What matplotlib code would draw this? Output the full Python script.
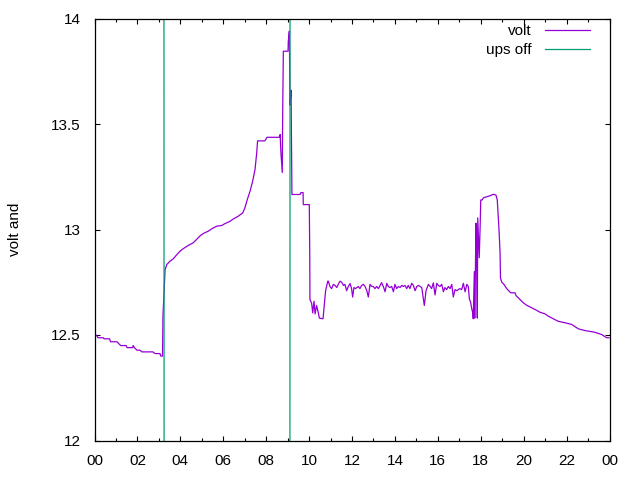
import matplotlib
matplotlib.use("Agg")
import matplotlib.pyplot as plt
from matplotlib.ticker import MultipleLocator

plt.rcParams['font.family'] = ['Liberation Sans', 'DejaVu Sans']

# time of day in hours
volt_t = [0.00, 0.10, 0.16, 0.40, 0.45, 0.70, 0.75, 1.05, 1.12, 1.22, 1.47, 1.52, 1.78, 1.80, 1.86,
          1.98, 2.12, 2.21, 2.72, 2.82, 3.05, 3.09, 3.17, 3.19, 3.29, 3.37, 3.52, 3.67, 3.83, 3.98,
          4.12, 4.30, 4.45, 4.60, 4.76, 4.92, 5.07, 5.30, 5.46, 5.70, 5.93, 6.08, 6.32, 6.47, 6.70,
          6.91, 7.01, 7.12, 7.25, 7.37, 7.48, 7.56, 7.60, 7.94, 8.04, 8.64, 8.65, 8.69, 8.75, 8.77,
          8.80, 9.02, 9.03, 9.08, 9.11, 9.16, 9.18, 9.20, 9.58, 9.62, 9.72, 9.73, 10.01, 10.03, 10.04,
          10.12, 10.17, 10.23, 10.28, 10.35, 10.42, 10.48, 10.65, 10.71, 10.77, 10.87, 10.90, 10.97, 11.05, 11.13,
          11.21, 11.29, 11.36, 11.44, 11.52, 11.60, 11.67, 11.75, 11.83, 11.91, 11.98, 12.03, 12.09, 12.16, 12.23,
          12.29, 12.37, 12.45, 12.53, 12.61, 12.69, 12.76, 12.84, 12.92, 12.99, 13.07, 13.15, 13.23, 13.31, 13.38,
          13.46, 13.54, 13.62, 13.69, 13.77, 13.85, 13.93, 14.00, 14.08, 14.16, 14.24, 14.32, 14.39, 14.47, 14.55,
          14.62, 14.70, 14.78, 14.86, 14.94, 15.02, 15.09, 15.17, 15.25, 15.33, 15.37, 15.45, 15.56, 15.64, 15.71,
          15.79, 15.87, 15.95, 16.02, 16.10, 16.18, 16.26, 16.33, 16.41, 16.49, 16.57, 16.65, 16.72, 16.80, 16.88,
          16.95, 17.03, 17.11, 17.19, 17.27, 17.35, 17.42, 17.47, 17.53, 17.58, 17.63, 17.65, 17.70, 17.72, 17.78,
          17.81, 17.84, 17.86, 17.93, 17.97, 18.00, 18.07, 18.12, 18.28, 18.43, 18.59, 18.71, 18.77, 18.85, 18.90,
          18.92, 18.98, 19.08, 19.18, 19.28, 19.40, 19.60, 19.64, 19.75, 19.86, 19.98, 20.14, 20.37, 20.53, 20.76,
          21.00, 21.15, 21.38, 21.61, 21.93, 22.24, 22.55, 22.86, 23.32, 23.64, 23.87, 23.98]

volt_v = [12.502, 12.498, 12.487, 12.487, 12.482, 12.482, 12.468, 12.468, 12.460, 12.450, 12.450, 12.440, 12.440, 12.450, 12.440,
          12.428, 12.428, 12.420, 12.420, 12.412, 12.412, 12.400, 12.400, 12.590, 12.810, 12.834, 12.850, 12.861, 12.880, 12.897,
          12.908, 12.920, 12.929, 12.937, 12.953, 12.970, 12.981, 12.992, 13.003, 13.016, 13.019, 13.028, 13.039, 13.050, 13.063,
          13.079, 13.103, 13.142, 13.182, 13.229, 13.284, 13.364, 13.420, 13.420, 13.437, 13.437, 13.450, 13.360, 13.270, 13.553,
          13.845, 13.845, 13.890, 13.940, 13.590, 13.660, 13.410, 13.166, 13.166, 13.175, 13.175, 13.118, 13.118, 12.897, 12.668,
          12.650, 12.605, 12.660, 12.600, 12.640, 12.610, 12.580, 12.577, 12.645, 12.710, 12.755, 12.755, 12.730, 12.720, 12.740,
          12.735, 12.725, 12.740, 12.755, 12.750, 12.735, 12.740, 12.710, 12.730, 12.744, 12.720, 12.680, 12.725, 12.720, 12.725,
          12.730, 12.720, 12.735, 12.740, 12.730, 12.710, 12.680, 12.740, 12.730, 12.730, 12.720, 12.730, 12.720, 12.735, 12.748,
          12.730, 12.705, 12.745, 12.730, 12.725, 12.730, 12.705, 12.740, 12.720, 12.730, 12.725, 12.735, 12.730, 12.735, 12.720,
          12.735, 12.720, 12.745, 12.735, 12.710, 12.730, 12.735, 12.730, 12.725, 12.670, 12.640, 12.710, 12.740, 12.730, 12.720,
          12.747, 12.690, 12.745, 12.735, 12.730, 12.740, 12.705, 12.725, 12.715, 12.730, 12.720, 12.740, 12.680, 12.715, 12.710,
          12.715, 12.720, 12.715, 12.745, 12.705, 12.740, 12.730, 12.670, 12.655, 12.624, 12.605, 12.577, 12.800, 12.580, 13.030,
          12.860, 12.580, 13.055, 12.866, 13.010, 13.140, 13.140, 13.150, 13.155, 13.160, 13.167, 13.163, 13.140, 13.000, 12.890,
          12.770, 12.750, 12.740, 12.724, 12.712, 12.700, 12.700, 12.687, 12.676, 12.665, 12.653, 12.641, 12.629, 12.621, 12.608,
          12.600, 12.589, 12.577, 12.565, 12.558, 12.550, 12.529, 12.521, 12.513, 12.502, 12.487, 12.487]

# "ups off" flag series (values outside the visible range; only the transitions show)
ups_t = [0.00, 3.20, 3.28, 9.07, 9.15, 24.00]
ups_v = [26.0, 26.0, 0.0, 0.0, 26.0, 26.0]

xtick_pos = list(range(0, 25, 2))
xtick_labels = ["00", "02", "04", "06", "08", "10", "12", "14", "16", "18", "20", "22", "00"]
ytick_pos = [12, 12.5, 13, 13.5, 14]
ytick_labels = ["12", "12.5", "13", "13.5", "14"]

fig = plt.figure(figsize=(6.4, 4.8), dpi=100)
ax = fig.add_axes([94.5 / 640, 1 - 440.5 / 480, 515 / 640, 422 / 480])

ax.plot(volt_t, volt_v, color='#9400D3', lw=0.9, label='volt')
ax.plot(ups_t, ups_v, color='#009E73', lw=0.9, label='ups off')

ax.set_xlim(0, 24)
ax.set_ylim(12, 14)
ax.set_xticks(xtick_pos)
ax.set_xticklabels(xtick_labels)
ax.xaxis.set_minor_locator(MultipleLocator(1))
ax.set_yticks(ytick_pos)
ax.set_yticklabels(ytick_labels)

ax.tick_params(axis='both', which='both', direction='in', top=True, right=True, labelsize=11, width=0.8)
ax.tick_params(axis='both', which='major', length=3.8)
ax.tick_params(axis='both', which='minor', length=1.9)
ax.tick_params(axis='x', which='major', pad=10)
ax.tick_params(axis='y', which='major', pad=10)
for s in ax.spines.values():
    s.set_linewidth(0.9)

fig.text(15 / 640, 0.5 * ((1 - 440.5 / 480) + (1 - 18.5 / 480)), 'volt and', rotation=90,
         ha='center', va='center', fontsize=11)

leg = ax.legend(loc='upper right', bbox_to_anchor=(590 / 640, 1 - 24 / 480),
                bbox_transform=fig.transFigure, frameon=False, markerfirst=False,
                fontsize=11, handlelength=2.95, handletextpad=0.85, borderpad=0,
                borderaxespad=0, labelspacing=0.35)

fig.savefig('out.png', dpi=100)
